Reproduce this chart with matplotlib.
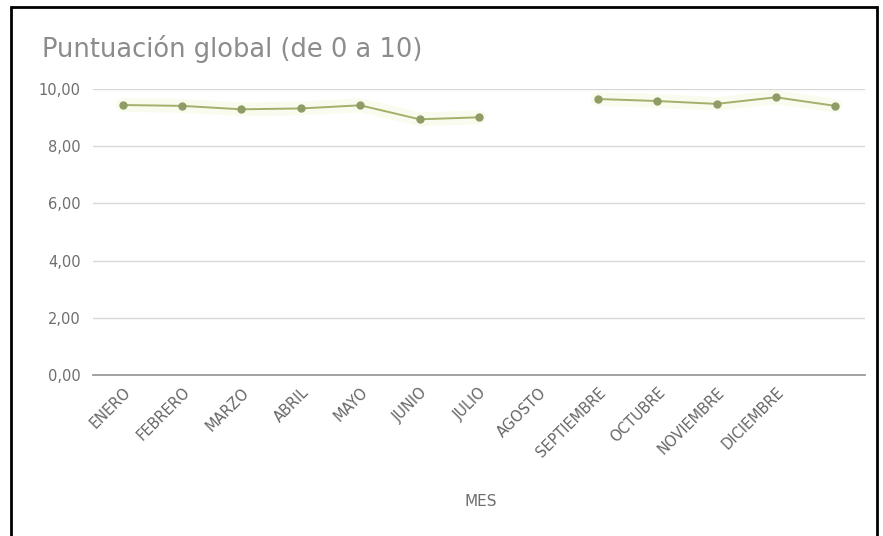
import numpy as np
import matplotlib
matplotlib.use("Agg")
import matplotlib.pyplot as plt
from matplotlib.patches import Rectangle

categories = ["ENERO", "FEBRERO", "MARZO", "ABRIL", "MAYO", "JUNIO", "JULIO",
              "AGOSTO", "SEPTIEMBRE", "OCTUBRE", "NOVIEMBRE", "DICIEMBRE", ""]
values = [9.44, 9.41, 9.29, 9.32, 9.43, 8.94, 9.01,
          np.nan, 9.65, 9.58, 9.48, 9.71, 9.41]
y_ticks = [0, 2, 4, 6, 8, 10]
y_tick_labels = ["0,00", "2,00", "4,00", "6,00", "8,00", "10,00"]
title = "Puntuación global (de 0 a 10)"
x_label = "MES"

W, H = 883, 536
fig = plt.figure(figsize=(W / 100, H / 100), dpi=100)
fig.patch.set_facecolor("white")

# outer black border
fig.patches.append(Rectangle((11 / W, -0.01), (877 - 11) / W, 1 - 7 / H + 0.01,
                             transform=fig.transFigure, fill=False,
                             edgecolor="black", linewidth=2))

ax = fig.add_axes([93 / W, 1 - 375 / H, (865 - 93) / W, (375 - 89) / H])
x = np.arange(len(categories))

ax.plot(x, values, color="#eef5c8", linewidth=10, alpha=0.3, solid_capstyle="round", zorder=2)
ax.plot(x, values, color="#a3b06a", linewidth=1.4, marker="o", markersize=5,
        markerfacecolor="#8f9c66", markeredgecolor="#8f9c66", zorder=3)

ax.set_xlim(-0.5, 12.5)
ax.set_ylim(0, 10)
ax.set_yticks(y_ticks)
ax.set_yticklabels(y_tick_labels, fontsize=10.5, color="#6e6e6e")
ax.set_xticks(x)
ax.set_xticklabels(categories, rotation=45, ha="right", rotation_mode="anchor",
                   fontsize=10.5, color="#666666")
ax.tick_params(axis="both", length=0)
ax.tick_params(axis="x", pad=7)
ax.tick_params(axis="y", pad=9)

ax.grid(axis="y", color="#d8d8d8", linewidth=1)
ax.set_axisbelow(True)
for s in ["top", "right", "left"]:
    ax.spines[s].set_visible(False)
ax.spines["bottom"].set_color("#9a9a9a")
ax.spines["bottom"].set_linewidth(1.3)

fig.text(42 / W, 1 - 49 / H, title, fontsize=18.5, color="#8c8c8c", va="center", ha="left")
fig.text(481 / W, 1 - 502 / H, x_label, fontsize=11, color="#6e6e6e", va="center", ha="center")

fig.savefig("out.png", dpi=100)
